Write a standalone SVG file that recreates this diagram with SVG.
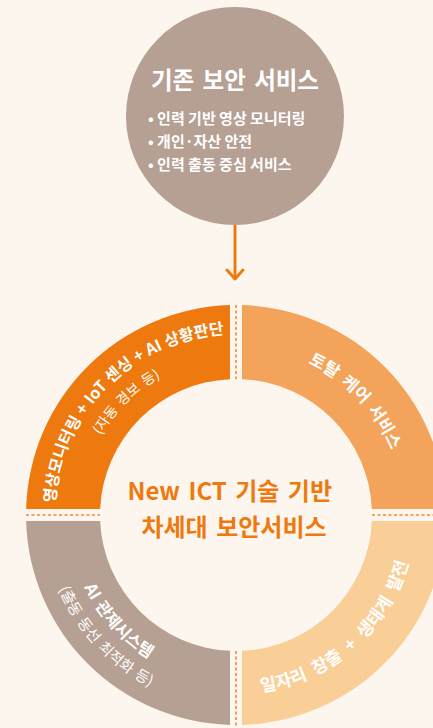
<svg xmlns="http://www.w3.org/2000/svg" width="433" height="728" viewBox="0 0 433 728">
<style>
.k{font-family:"Noto Sans CJK KR","Noto Sans",sans-serif;}
.w{fill:#ffffff;}
.b{font-weight:700;}
.dash{stroke:#F08A2E;stroke-width:1.6;stroke-dasharray:3 2.5;fill:none;}
</style>
<defs>
<path id="pTL" d="M 55 515 A 181 181 0 0 1 236 334"/>
<path id="pTLs" d="M 79 515 A 157 157 0 0 1 236 358"/>
<path id="pTR" d="M 236 347 A 168 168 0 0 1 404 515"/>
<path id="pBR" d="M 236 694 A 179 179 0 0 0 415 515"/>
<path id="pBL" d="M 68 515 A 168 168 0 0 0 236 683"/>
<path id="pBLs" d="M 44 515 A 192 192 0 0 0 236 707"/>
</defs>
<rect width="433" height="728" fill="#FDF6EF"/>

<g id="existing">
<circle cx="235" cy="116" r="109" fill="#B5A093"/>
<text class="k w b" x="235" y="89" font-size="23.5" text-anchor="middle" word-spacing="3">기존 보안 서비스</text>
<text class="k w b" font-size="15">
<tspan x="148" y="124">• 인력 기반 영상 모니터링</tspan>
<tspan x="148" y="147">• 개인·자산 안전</tspan>
<tspan x="148" y="170">• 인력 출동 중심 서비스</tspan>
</text>
</g>

<g id="connectors">
<line x1="235" y1="225" x2="235" y2="279" stroke="#EE7A12" stroke-width="3"/>
<polyline points="227,270 235,279 243,270" fill="none" stroke="#EE7A12" stroke-width="3" stroke-linecap="round" stroke-linejoin="round"/>
</g>

<g id="ring-top-left">
<path d="M 230 305.09 A 210 210 0 0 0 26.09 509 L 100.13 509 A 136 136 0 0 1 230 379.13 Z" fill="#EE7A0F"/>
<text class="k w b" font-size="16" word-spacing="0.5"><textPath href="#pTL" startOffset="50%" text-anchor="middle">영상모니터링 + IoT 센싱 + AI 상황판단</textPath></text>
<text class="k w" font-size="14" word-spacing="2"><textPath href="#pTLs" startOffset="51%" text-anchor="middle">(자동 경보 등)</textPath></text>
</g>

<g id="ring-top-right">
<path d="M 242 305.09 A 210 210 0 0 1 445.91 509 L 371.87 509 A 136 136 0 0 0 242 379.13 Z" fill="#F4A35A"/>
<text class="k w b" font-size="17" word-spacing="3"><textPath href="#pTR" startOffset="51.5%" text-anchor="middle">토탈 케어 서비스</textPath></text>
</g>

<g id="ring-bottom-right">
<path d="M 445.91 521 A 210 210 0 0 1 242 724.91 L 242 650.87 A 136 136 0 0 0 371.87 521 Z" fill="#FACE97"/>
<text class="k w b" font-size="17.5" word-spacing="5"><textPath href="#pBR" startOffset="46%" text-anchor="middle">일자리 창출 + 생태계 발전</textPath></text>
</g>

<g id="ring-bottom-left">
<path d="M 230 724.91 A 210 210 0 0 1 26.09 521 L 100.13 521 A 136 136 0 0 0 230 650.87 Z" fill="#B5A093"/>
<text class="k w b" font-size="16.5" word-spacing="2"><textPath href="#pBL" startOffset="46.7%" text-anchor="middle">AI 관제시스템</textPath></text>
<text class="k w" font-size="15" word-spacing="2"><textPath href="#pBLs" startOffset="47.8%" text-anchor="middle">(출동 동선 최적화 등)</textPath></text>
</g>

<g id="separators">
<line class="dash" x1="26" y1="515" x2="100" y2="515"/>
<line class="dash" x1="372" y1="515" x2="433" y2="515"/>
<line class="dash" x1="236" y1="305" x2="236" y2="379"/>
<line class="dash" x1="236" y1="651" x2="236" y2="728"/>
</g>

<g id="center">
<text class="k b" fill="#EE7A0F" font-size="24" text-anchor="middle" word-spacing="3">
<tspan x="234" y="500">New ICT 기술 기반</tspan>
<tspan x="234" y="536">차세대 보안서비스</tspan>
</text>
</g>
</svg>
